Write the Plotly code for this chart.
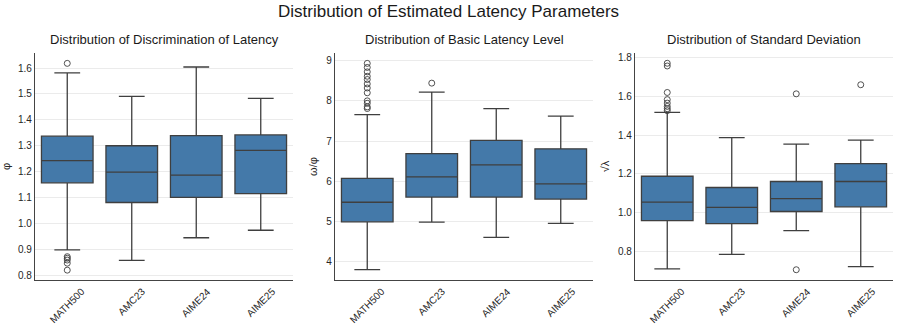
import plotly.graph_objects as go

# benchmarks on the x axis
datasets = ["MATH500", "AMC23", "AIME24", "AIME25"]

# panel 1: discrimination of latency (phi)
phi_q1 = [1.157, 1.081, 1.101, 1.115]
phi_med = [1.243, 1.198, 1.187, 1.282]
phi_q3 = [1.337, 1.300, 1.339, 1.342]
phi_lo = [0.898, 0.858, 0.945, 0.974]
phi_hi = [1.581, 1.491, 1.604, 1.483]
phi_out_x = ["MATH500"] * 6
phi_out_y = [1.618, 0.872, 0.866, 0.859, 0.847, 0.820]

# panel 2: basic latency level (omega/phi)
omg_q1 = [4.997, 5.61, 5.61, 5.56]
omg_med = [5.483, 6.11, 6.41, 5.94]
omg_q3 = [6.076, 6.69, 7.02, 6.81]
omg_lo = [3.811, 4.99, 4.61, 4.96]
omg_hi = [7.657, 8.217, 7.806, 7.62]
omg_out_x = ["MATH500"] * 12 + ["AMC23"]
omg_out_y = [8.93, 8.83, 8.72, 8.61, 8.53, 8.42, 8.32, 8.20, 8.00, 7.94, 7.85, 7.81, 8.44]

# panel 3: standard deviation (sqrt lambda)
sd_q1 = [0.958, 0.942, 1.005, 1.029]
sd_med = [1.053, 1.026, 1.071, 1.160]
sd_q3 = [1.187, 1.129, 1.160, 1.252]
sd_lo = [0.708, 0.783, 0.906, 0.720]
sd_hi = [1.517, 1.387, 1.353, 1.374]
sd_out_x = ["MATH500"] * 8 + ["AIME24", "AIME24", "AIME25"]
sd_out_y = [1.771, 1.757, 1.620, 1.583, 1.565, 1.548, 1.536, 1.526, 1.613, 0.704, 1.660]

titles = ["Distribution of Discrimination of Latency",
          "Distribution of Basic Latency Level",
          "Distribution of Standard Deviation"]
ylabels = ["φ", "ω/φ", "√λ"]

W, H = 897, 328
BOX = "#4479a9"
EDGE = "#3f3f3f"
TXT = "#262626"
FONT = "Liberation Sans, Arial, sans-serif"

panels = [
    (phi_q1, phi_med, phi_q3, phi_lo, phi_hi, phi_out_x, phi_out_y),
    (omg_q1, omg_med, omg_q3, omg_lo, omg_hi, omg_out_x, omg_out_y),
    (sd_q1, sd_med, sd_q3, sd_lo, sd_hi, sd_out_x, sd_out_y),
]
xdoms = [(35, 293), (335, 593), (635, 893)]
yranges = [[0.782, 1.658], [3.552, 9.188], [0.651, 1.824]]
dticks = [0.1, 1, 0.2]
tfmts = [".1f", "d", ".1f"]

fig = go.Figure()
annotations = []
for i, (q1, med, q3, lo, hi, ox, oy) in enumerate(panels):
    n = "" if i == 0 else str(i + 1)
    fig.add_trace(go.Box(
        x=datasets, q1=q1, median=med, q3=q3, lowerfence=lo, upperfence=hi,
        fillcolor=BOX, line=dict(color=EDGE, width=1.3), whiskerwidth=0.5, width=0.8,
        boxpoints=False, xaxis="x" + n, yaxis="y" + n, showlegend=False,
    ))
    fig.add_trace(go.Scatter(
        x=ox, y=oy, mode="markers", xaxis="x" + n, yaxis="y" + n, showlegend=False,
        marker=dict(symbol="circle-open", size=6, color=EDGE, line=dict(width=0.9)),
    ))
    x0, x1 = xdoms[i]
    fig.update_layout({
        "xaxis" + n: dict(domain=[x0 / W, x1 / W], anchor="y" + n, automargin=False,
                          type="category", categoryorder="array", categoryarray=datasets,
                          range=[-0.5, 3.5], showline=True, linecolor="#444", linewidth=1.2,
                          showgrid=False, ticks="", showticklabels=False),
        "yaxis" + n: dict(domain=[1 - 280 / H, 1 - 53 / H], anchor="x" + n, automargin=False,
                          range=yranges[i], dtick=dticks[i], tickformat=tfmts[i],
                          showline=True, linecolor="#444", linewidth=1.2,
                          showgrid=True, gridcolor="#ebebeb", gridwidth=1, zeroline=False,
                          ticks="", tickfont=dict(size=10, color=TXT),
                          title=dict(text=ylabels[i], font=dict(size=11, color=TXT),
                                     standoff=6)),
    })
    # rotated category labels, centred under each box like matplotlib's ha="center"
    for d in datasets:
        annotations.append(dict(text=d, x=d, xref="x" + n, y=1 - 283 / H, yref="paper",
                                textangle=-45, showarrow=False, xanchor="center",
                                yanchor="top", font=dict(size=10, color=TXT)))
    annotations.append(dict(text=titles[i], x=(x0 + x1) / 2 / W, y=1 - 39 / H,
                            xref="paper", yref="paper", showarrow=False,
                            xanchor="center", yanchor="middle",
                            font=dict(size=13, color="#1a1a1a")))

annotations.append(dict(text="Distribution of Estimated Latency Parameters",
                        x=0.5, y=1 - 11 / H, xref="paper", yref="paper", showarrow=False,
                        xanchor="center", yanchor="middle",
                        font=dict(size=17, color="#1a1a1a")))

fig.update_layout(width=W, height=H, margin=dict(l=0, r=0, t=0, b=0),
                  paper_bgcolor="white", plot_bgcolor="white",
                  font=dict(family=FONT), annotations=annotations, boxgap=0.2)

fig.write_html("out.html", config={"displayModeBar": False},
               post_script="document.body.style.margin='0';")
